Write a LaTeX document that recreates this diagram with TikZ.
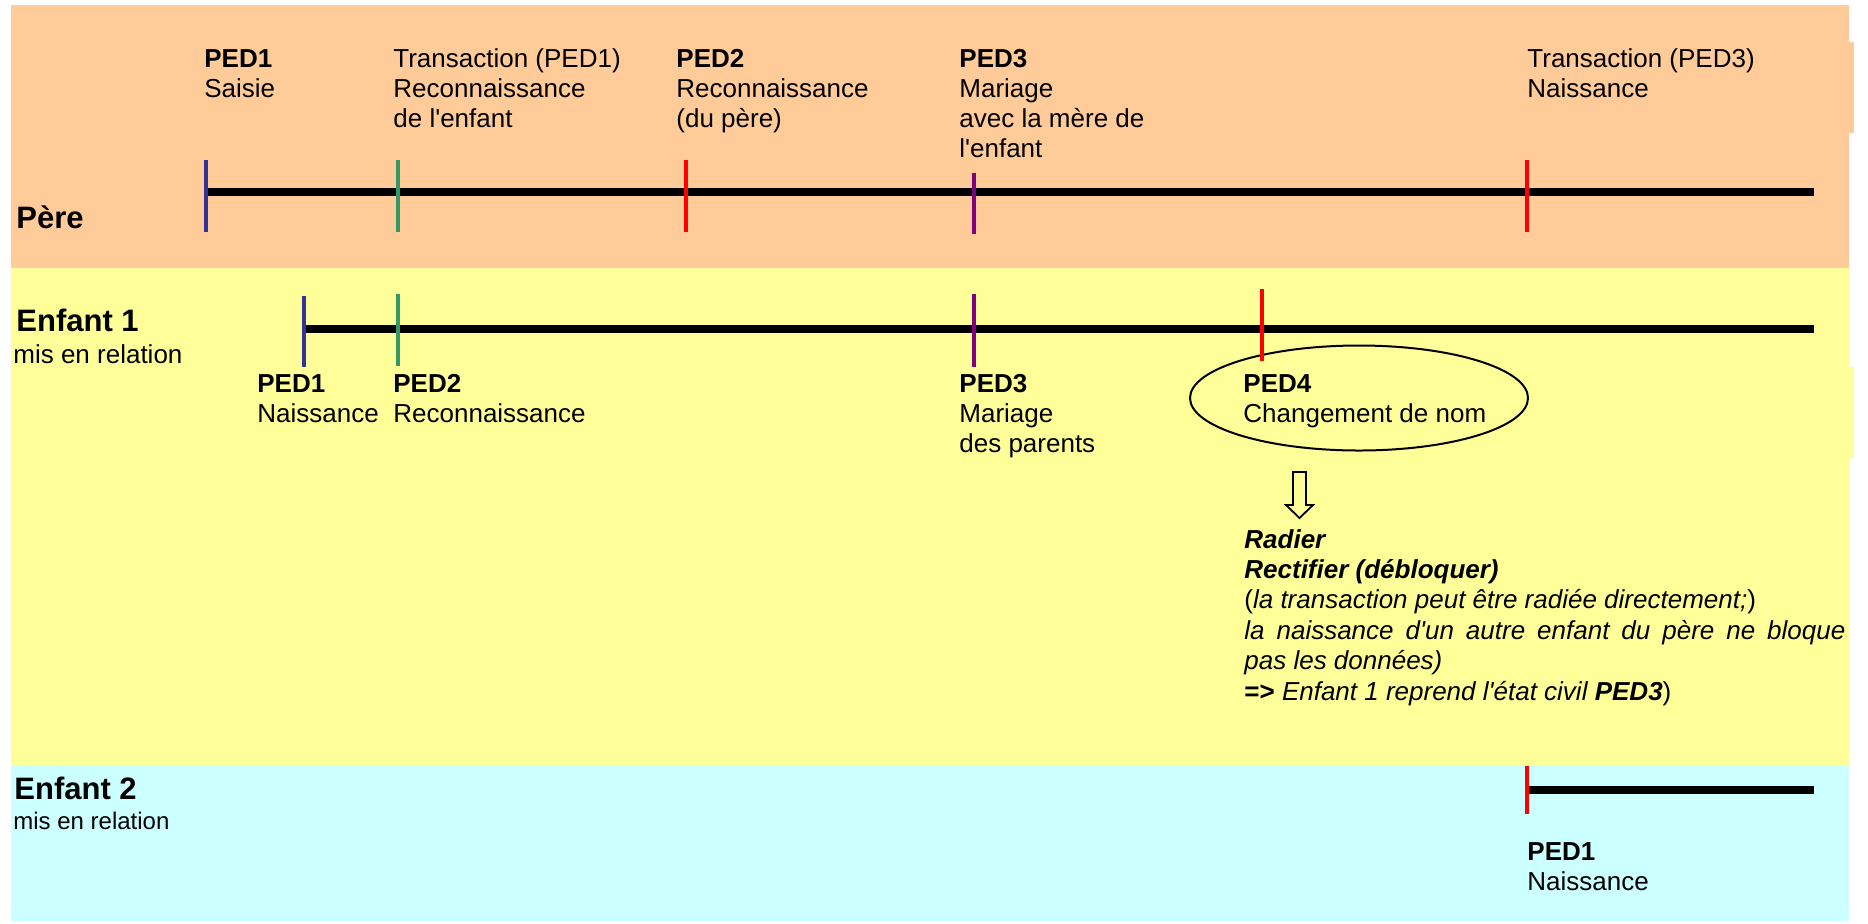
\documentclass[tikz,border=0pt]{standalone}
\usepackage{fontspec}
\newfontfamily\arial{Liberation Sans}
\usetikzlibrary{shapes.geometric}
\definecolor{peach}{RGB}{255,204,153}
\definecolor{lyellow}{RGB}{255,255,153}
\definecolor{lcyan}{RGB}{204,255,255}
\definecolor{tblue}{RGB}{51,51,153}
\definecolor{tgreen}{RGB}{51,153,102}
\definecolor{tred}{RGB}{255,0,0}
\definecolor{tpurple}{RGB}{128,0,128}
\newcommand\mlbox[1]{\begin{tabular}[t]{@{}l@{}}#1\end{tabular}}
\begin{document}
\begin{tikzpicture}[x=0.5pt,y=-0.5pt,
  lab/.style={anchor=base west, inner sep=0pt, font=\arial\fontsize{13}{15}\selectfont},
  note/.style={anchor=base west, inner sep=0pt, font=\arial\fontsize{13}{15.2}\selectfont},
  row/.style={anchor=base west, inner sep=0pt, font=\arial\fontsize{15.5}{18}\selectfont\bfseries},
  sub/.style={anchor=base west, inner sep=0pt, font=\arial\fontsize{13}{15}\selectfont},
  subsmall/.style={anchor=base west, inner sep=0pt, font=\arial\fontsize{12}{14}\selectfont},
  tline/.style={line width=4pt, black},
  tick/.style={line width=2pt},
]
\useasboundingbox (0,0) rectangle (1868,923);
\fill[white] (0,0) rectangle (1868,923);
% bands
\fill[peach] (11,5) rectangle (1849,268);
\fill[peach] (1840,42) rectangle (1854,133);
\fill[lyellow] (11,268) rectangle (1849,766);
\fill[lyellow] (1840,367) rectangle (1854,458);
\fill[lcyan] (11,766) rectangle (1849,921);

% row labels
\node[row] (pere) at (16,228) {Père};
\node[row] (enf1) at (16,331) {Enfant 1};
\node[sub] (enf1s) at (13,363) {mis en relation};
\node[row] (enf2) at (14,799) {Enfant 2};
\node[subsmall] (enf2s) at (13,829) {mis en relation};

% timelines
\coordinate (pA) at (206,192); \coordinate (pB) at (1814,192);
\coordinate (eA) at (304,329); \coordinate (eB) at (1814,329);
\coordinate (fA) at (1527,790); \coordinate (fB) at (1814,790);
\draw[tline] (pA) -- (pB);
\draw[tline] (eA) -- (eB);
\draw[tline] (fA) -- (fB);

% ellipse
\node[draw, ellipse, line width=1pt, minimum width=169pt, minimum height=52.5pt, inner sep=0pt] (ell) at (1359,398) {};

% ticks on Pere
\coordinate (t1a) at (206,160); \coordinate (t1b) at (206,232);
\coordinate (t2a) at (398,160); \coordinate (t2b) at (398,232);
\coordinate (t3a) at (686,160); \coordinate (t3b) at (686,232);
\coordinate (t4a) at (974,173); \coordinate (t4b) at (974,234);
\coordinate (t5a) at (1527,160); \coordinate (t5b) at (1527,232);
\draw[tick, tblue] (t1a) -- (t1b);
\draw[tick, tgreen] (t2a) -- (t2b);
\draw[tick, tred] (t3a) -- (t3b);
\draw[tick, tpurple] (t4a) -- (t4b);
\draw[tick, tred] (t5a) -- (t5b);

% ticks on Enfant 1
\coordinate (u1a) at (304,296); \coordinate (u1b) at (304,367);
\coordinate (u2a) at (398,294); \coordinate (u2b) at (398,366);
\coordinate (u3a) at (974,294); \coordinate (u3b) at (974,367);
\coordinate (u4a) at (1262,289); \coordinate (u4b) at (1262,361);
\draw[tick, tblue] (u1a) -- (u1b);
\draw[tick, tgreen] (u2a) -- (u2b);
\draw[tick, tpurple] (u3a) -- (u3b);
\draw[tick, tred] (u4a) -- (u4b);

% tick on Enfant 2
\coordinate (v1a) at (1527,766); \coordinate (v1b) at (1527,814);
\draw[tick, tred] (v1a) -- (v1b);

% labels Pere
\node[lab] (lp1) at (204,67) {\mlbox{\textbf{PED1}\\Saisie}};
\node[lab] (lp2) at (393,67) {\mlbox{Transaction (PED1)\\Reconnaissance\\de l'enfant}};
\node[lab] (lp3) at (676,67) {\mlbox{\textbf{PED2}\\Reconnaissance\\(du père)}};
\node[lab] (lp4) at (959,67) {\mlbox{\textbf{PED3}\\Mariage\\avec la mère de\\l'enfant}};
\node[lab] (lp5) at (1527,67) {\mlbox{Transaction (PED3)\\Naissance}};

% labels Enfant 1
\node[lab] (le1) at (257,392) {\mlbox{\textbf{PED1}\\Naissance}};
\node[lab] (le2) at (393,392) {\mlbox{\textbf{PED2}\\Reconnaissance}};
\node[lab] (le3) at (959,392) {\mlbox{\textbf{PED3}\\Mariage\\des parents}};
\node[lab] (le4) at (1243,392) {\mlbox{\textbf{PED4}\\Changement de nom}};

% hollow arrow
\draw[line width=0.9pt, fill=lyellow, line join=miter]
  (1293,472) -- (1306,472) -- (1306,505) -- (1313,505) -- (1299.5,518)
  -- (1286,505) -- (1293,505) -- cycle;

% note
\node[note] (nt) at (1244,548) {\mlbox{{\bfseries\itshape Radier}\\
{\bfseries\itshape Rectifier (débloquer)}\\
(\textit{la transaction peut être radiée directement;})\\
\makebox[300.5pt][s]{\itshape la naissance d'un autre enfant du père ne bloque}\\
\textit{pas les données)}\\
\textbf{=>} \textit{Enfant 1 reprend l'état civil \textbf{PED3}})}};

% labels Enfant 2
\node[lab] (lf1) at (1527,860) {\mlbox{\textbf{PED1}\\Naissance}};
\end{tikzpicture}
\end{document}
